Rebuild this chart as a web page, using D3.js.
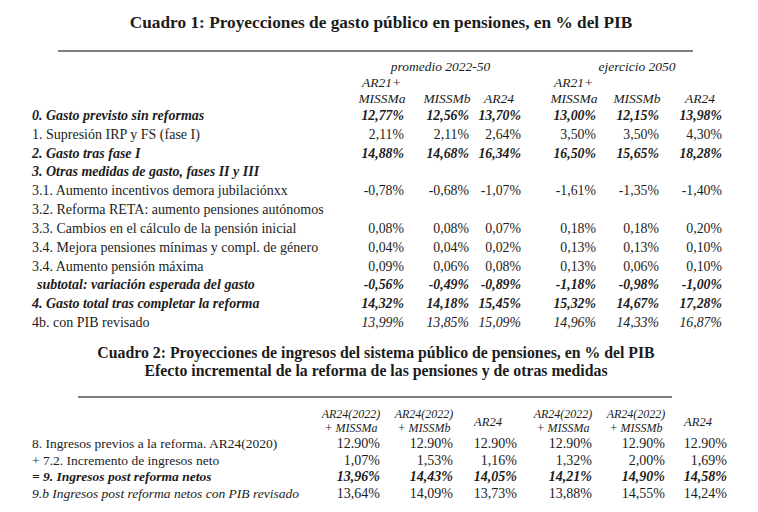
<!DOCTYPE html>
<html>
<head>
<meta charset="utf-8">
<script src="https://cdn.jsdelivr.net/npm/d3@7"></script>
<style>
  body { margin: 0; background: #fff; }
  svg { display: block; }
  text { font-family: "Liberation Serif", "Times New Roman", serif; fill: #1c1c1c; }
</style>
</head>
<body>
<svg id="chart"></svg>
<script>
// ---- Cuadro 1 data ----
const groups1 = ["promedio 2022-50", "ejercicio 2050"];
const columns1 = ["AR21+|MISSMa", "MISSMb", "AR24", "AR21+|MISSMa ", "MISSMb ", "AR24 "];
const rowLabels1 = [
  "0. Gasto previsto sin reformas",
  "1. Supresión IRP y FS (fase I)",
  "2. Gasto tras fase I",
  "3. Otras medidas de gasto, fases II y III",
  "3.1. Aumento incentivos demora jubilaciónxx",
  "3.2. Reforma RETA: aumento pensiones autónomos",
  "3.3. Cambios en el cálculo de la pensión inicial",
  "3.4. Mejora pensiones mínimas y compl. de género",
  "3.4. Aumento pensión máxima",
  "subtotal: variación esperada del gasto",
  "4. Gasto total tras completar la reforma",
  "4b. con PIB revisado"
];
// label style / value style: b = bold italic, r = regular, i = italic
const labelStyle1 = ["b", "r", "b", "b", "r", "r", "r", "r", "r", "b", "b", "r"];
const valueStyle1 = ["b", "r", "b", "b", "r", "r", "r", "r", "r", "b", "b", "i"];
const values1 = [
  [12.77, 12.56, 13.70, 13.00, 12.15, 13.98],
  [2.11, 2.11, 2.64, 3.50, 3.50, 4.30],
  [14.88, 14.68, 16.34, 16.50, 15.65, 18.28],
  null,
  [-0.78, -0.68, -1.07, -1.61, -1.35, -1.40],
  null,
  [0.08, 0.08, 0.07, 0.18, 0.18, 0.20],
  [0.04, 0.04, 0.02, 0.13, 0.13, 0.10],
  [0.09, 0.06, 0.08, 0.13, 0.06, 0.10],
  [-0.56, -0.49, -0.89, -1.18, -0.98, -1.00],
  [14.32, 14.18, 15.45, 15.32, 14.67, 17.28],
  [13.99, 13.85, 15.09, 14.96, 14.33, 16.87]
];

// ---- Cuadro 2 data ----
const columns2 = ["AR24(2022)|+ MISSMa", "AR24(2022)|+ MISSMb", "AR24", "AR24(2022)|+ MISSMa ", "AR24(2022)|+ MISSMb ", "AR24 "];
const rowLabels2 = [
  "8. Ingresos previos a la reforma. AR24(2020)",
  "+ 7.2. Incremento de ingresos neto",
  "= 9. Ingresos post reforma netos",
  "9.b Ingresos post reforma netos con PIB revisado"
];
const labelStyle2 = ["r", "r", "b", "i"];
const valueStyle2 = ["r", "r", "b", "r"];
const decimalSep2 = [".", ",", ",", ","];
const values2 = [
  [12.90, 12.90, 12.90, 12.90, 12.90, 12.90],
  [1.07, 1.53, 1.16, 1.32, 2.00, 1.69],
  [13.96, 14.43, 14.05, 14.21, 14.90, 14.58],
  [13.64, 14.09, 13.73, 13.88, 14.55, 14.24]
];

const width = 758, height = 512;
const svg = d3.select("#chart").attr("width", width).attr("height", height);

const fmt = d3.format(".2f");
// d3 uses a unicode minus; the table uses a plain hyphen
const pct = (v, sep) => fmt(v).replace("\u2212", "-").replace(".", sep || ",") + "%";

function applyStyle(sel, s) {
  sel.attr("font-style", s === "r" ? "normal" : "italic")
     .attr("font-weight", s === "b" ? "bold" : "normal");
}

// ================= Cuadro 1 =================
svg.append("text")
  .attr("x", 381).attr("y", 28)
  .attr("text-anchor", "middle")
  .attr("font-size", 17.3).attr("font-weight", "bold")
  .text("Cuadro 1: Proyecciones de gasto público en pensiones, en % del PIB");

svg.append("line")
  .attr("x1", 58).attr("x2", 693).attr("y1", 51).attr("y2", 51)
  .attr("stroke", "#555").attr("stroke-width", 1.6);

const x1 = d3.scaleOrdinal(columns1, [404, 469, 521, 596, 659, 722]);
const y1 = d3.scaleLinear().domain([0, rowLabels1.length - 1]).range([120, 327]);

// group headers
groups1.forEach((g, gi) => {
  const cols = columns1.slice(gi * 3, gi * 3 + 3);
  const cx = (x1(cols[0]) + x1(cols[2])) / 2 - 22;
  svg.append("text")
    .attr("x", cx).attr("y", 71)
    .attr("text-anchor", "middle")
    .attr("font-size", 13.5).attr("font-style", "italic")
    .text(g);
});

// column headers
const head1 = svg.append("g").attr("class", "col-head");
columns1.forEach(c => {
  const parts = c.trim().split("|");
  const cx = x1(c) - 22;
  if (parts.length === 2) {
    head1.append("text")
      .attr("x", cx - 20).attr("y", 87)
      .attr("font-size", 13.5).attr("font-style", "italic")
      .text(parts[0]);
  }
  head1.append("text")
    .attr("x", cx).attr("y", 103)
    .attr("text-anchor", "middle")
    .attr("font-size", 13.5).attr("font-style", "italic")
    .text(parts[parts.length - 1]);
});

// rows
const rows1 = svg.append("g").selectAll("g")
  .data(rowLabels1)
  .join("g")
  .attr("transform", (d, i) => `translate(0,${y1(i)})`);

rows1.append("text")
  .attr("x", (d, i) => i === 9 ? 37 : 32)
  .attr("font-size", 14)
  .each(function(d, i) { applyStyle(d3.select(this), labelStyle1[i]); })
  .text(d => d);

rows1.each(function(d, i) {
  if (!values1[i]) return;
  d3.select(this).selectAll("text.val")
    .data(values1[i])
    .join("text")
    .attr("class", "val")
    .attr("x", (v, j) => x1(columns1[j]))
    .attr("text-anchor", "end")
    .attr("font-size", 13.8)
    .call(applyStyle, valueStyle1[i])
    .text(v => pct(v));
});

// ================= Cuadro 2 =================
const title2 = [
  "Cuadro 2: Proyecciones de ingresos del sistema público de pensiones, en % del PIB",
  "Efecto incremental de la reforma de las pensiones y de otras medidas"
];
svg.selectAll("text.title2")
  .data(title2)
  .join("text")
  .attr("class", "title2")
  .attr("x", 376)
  .attr("y", (d, i) => 358 + i * 17.5)
  .attr("text-anchor", "middle")
  .attr("font-size", 15.8).attr("font-weight", "bold")
  .text(d => d);

svg.append("line")
  .attr("x1", 78).attr("x2", 672).attr("y1", 397).attr("y2", 397)
  .attr("stroke", "#555").attr("stroke-width", 1.6);

const x2 = d3.scaleOrdinal(columns2, [380, 453, 517, 592, 665, 727]);
const y2 = d3.scaleLinear().domain([0, rowLabels2.length - 1]).range([448, 498]);

const head2 = svg.append("g").attr("class", "col-head2");
columns2.forEach(c => {
  const parts = c.trim().split("|");
  const cx = x2(c) - 29;
  if (parts.length === 2) {
    parts.forEach((p, k) => {
      head2.append("text")
        .attr("x", cx).attr("y", 418 + k * 14)
        .attr("text-anchor", "middle")
        .attr("font-size", 12).attr("font-style", "italic")
        .text(p);
    });
  } else {
    head2.append("text")
      .attr("x", cx).attr("y", 426)
      .attr("text-anchor", "middle")
      .attr("font-size", 12.5).attr("font-style", "italic")
      .text(parts[0]);
  }
});

const rows2 = svg.append("g").selectAll("g")
  .data(rowLabels2)
  .join("g")
  .attr("transform", (d, i) => `translate(0,${y2(i)})`);

rows2.append("text")
  .attr("x", 32)
  .attr("font-size", 13.5)
  .each(function(d, i) { applyStyle(d3.select(this), labelStyle2[i]); })
  .text(d => d);

rows2.each(function(d, i) {
  d3.select(this).selectAll("text.val")
    .data(values2[i])
    .join("text")
    .attr("class", "val")
    .attr("x", (v, j) => x2(columns2[j]))
    .attr("text-anchor", "end")
    .attr("font-size", 14)
    .call(applyStyle, valueStyle2[i])
    .text(v => pct(v, decimalSep2[i]));
});
</script>
</body>
</html>
